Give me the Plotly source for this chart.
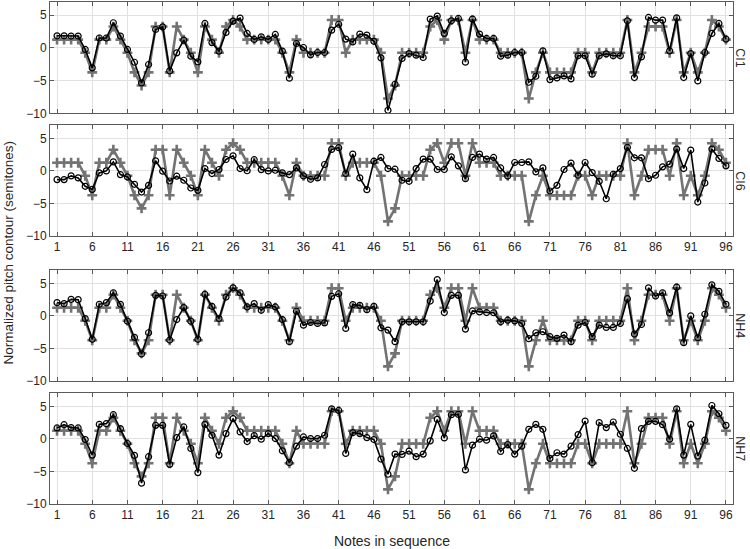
import plotly.graph_objects as go

notes = list(range(1, 97))
x_tick_vals = list(range(1, 97, 5))
x_tick_labels = [str(v) for v in x_tick_vals]
y_tick_vals = [-10, -5, 0, 5]
panel_names = ["CI1", "CI6", "NH4", "NH7"]

reference = [1.25, 1.25, 1.25, 1.25, -0.75, -3.75, 1.25, 1.25, 3.25, 1.25,
             -0.75, -3.75, -5.75, -3.75, 3.25, 3.25, -3.75, 3.25, 1.25, -0.75,
             -3.75, 3.25, 1.25, -0.75, 3.25, 4.25, 3.25, 1.25, 1.25, 1.25,
             1.25, 1.25, -0.75, -3.75, 1.25, -0.75, -0.75, -0.75, -0.75, 4.25,
             4.25, -0.75, 1.25, 1.25, 1.25, 1.25, -0.75, -7.75, -5.75, -0.75,
             -0.75, -0.75, -0.75, 3.25, 4.25, 1.25, 4.25, 4.25, -0.75, 4.25,
             1.25, 1.25, 1.25, -0.75, -0.75, -0.75, -0.75, -7.75, -3.75, -0.75,
             -3.75, -3.75, -3.75, -3.75, -0.75, -0.75, -3.75, -0.75, -0.75, -0.75,
             -0.75, 4.25, -3.75, -0.75, 3.25, 3.25, 3.25, -0.75, 4.25, -3.75,
             -0.75, -3.75, -0.75, 4.25, 3.25, 1.25]

ci1 = [1.84, 1.84, 1.8, 1.8, -0.25, -3.06, 1.5, 1.5, 3.83, 1.8,
       -0.25, -2.2, -5.36, -2.55, 2.8, 3.2, -3.52, -0.77, 1.17, -1.28,
       -2.14, 3.72, 0.8, -0.5, 2.35, 4.08, 4.54, 2.2, 1.28, 1.68,
       1.28, 2.04, -0.5, -4.64, 0.66, 0.05, -1.07, -0.71, -0.71, 2.7,
       3.6, 1.33, 0.9, 2.1, 1.94, 1.0, -1.53, -9.54, -5.56, -1.63,
       -0.87, -1.12, -1.48, 4.39, 4.85, 2.2, 4.13, 4.49, -2.19, 4.39,
       2.1, 1.43, 1.43, -1.28, -1.12, -0.71, -0.71, -5.26, -4.34, -0.46,
       -4.85, -4.59, -4.29, -4.74, -1.22, -1.22, -4.03, -1.22, -0.92, -1.22,
       -1.22, 4.13, -4.54, -1.38, 4.64, 4.23, 4.23, -0.46, 4.59, -4.54,
       -0.87, -5.05, -0.71, 2.2, 3.72, 1.33]

ci6 = [-1.34, -1.34, -0.77, -1.08, -2.37, -2.84, -0.31, 0.0, 1.39, -0.57,
       -0.93, -2.06, -3.25, -2.22, 1.55, -0.05, -1.55, -0.82, -1.44, -2.63,
       -2.99, 0.36, -0.41, 0.21, 1.75, 2.32, 0.36, 0.02, 1.72, 0.2,
       0.0, 0.1, -0.31, -0.57, 0.46, -0.77, -1.29, -1.08, 0.98, 3.3,
       3.56, -0.41, 2.58, -1.08, -2.89, 1.49, 2.06, 0.36, 0.26, -1.44,
       -1.6, 0.36, 1.8, 1.8, 0.21, 0.21, 2.16, 0.77, -1.19, 2.06,
       2.58, 1.8, 2.06, 0.45, -0.77, 1.29, 1.29, 1.39, -0.15, 0.46,
       -3.09, -2.22, 0.21, 1.19, -0.67, 1.29, -0.26, -1.6, -4.28, -0.52,
       0.36, 3.61, 2.01, 2.01, -1.19, -0.67, 0.62, 1.03, 3.35, 0.36,
       3.2, -4.79, -1.86, 3.35, 1.91, 0.77]

nh4 = [2.03, 1.88, 2.54, 2.49, -0.41, -3.6, 1.78, 2.03, 3.55, 1.78,
       -0.81, -3.3, -5.84, -2.59, 3.15, 3.05, -3.71, -0.56, 1.27, -0.81,
       -3.6, 3.3, 1.47, -0.41, 2.89, 4.31, 3.55, 1.37, 1.88, 0.86,
       1.73, 1.37, -0.56, -3.96, 0.71, -1.42, -1.02, -1.17, -1.07, 3.0,
       3.4, -1.93, 1.73, 1.62, 0.96, 1.47, -1.83, -2.18, -3.96, -0.91,
       -0.91, -0.91, -0.91, 2.28, 5.58, 0.51, 3.15, 3.15, -2.03, 0.76,
       0.61, 0.51, 0.48, -0.91, -0.66, -0.76, -1.17, -3.5, -2.59, -2.44,
       -3.2, -3.45, -2.94, -3.96, -1.42, -1.02, -3.2, -1.42, -1.78, -1.78,
       -1.17, 2.64, -2.79, -1.32, 4.31, 3.05, 3.55, 0.46, 4.42, -4.11,
       0.0, -3.35, 0.25, 4.77, 3.76, 1.78]

nh7 = [1.68, 2.18, 1.73, 1.68, -0.1, -2.49, 2.23, 2.34, 3.71, 1.57,
       -0.71, -2.54, -6.8, -2.74, 2.08, 2.08, -3.91, 0.2, 1.83, -1.47,
       -5.18, 2.23, 0.56, -2.49, 0.81, 3.1, 1.07, -0.41, 0.5, -0.05,
       0.81, 0.05, -1.83, -3.65, -1.12, 0.3, 0.05, 0.05, 0.56, 4.62,
       4.37, -2.23, 0.96, 0.81, 0.2, -0.1, -3.1, -5.43, -2.34, -2.39,
       -1.88, -2.74, -2.34, -0.3, 2.99, 0.15, 3.71, 3.76, -4.77, -0.96,
       -0.05, -0.2, 0.46, -1.93, -0.86, -2.34, -1.12, 1.47, 2.23, 1.47,
       -3.0, -2.13, -2.34, -1.12, 0.66, 2.74, -3.65, 2.49, 1.73, 2.59,
       0.71, -1.47, -4.52, 1.57, 2.69, 2.69, 2.18, -0.05, 4.62, -2.49,
       2.23, -2.64, -0.2, 5.13, 3.86, 2.08]

performances = [ci1, ci6, nh4, nh7]

# pixel geometry (750 x 549 canvas)
W, H = 750, 549
left_px, right_px = 50, 733.3
panels_px = [(2.0, 113.3), (125.3, 236.0), (270.3, 381.0), (393.3, 504.0)]
top_px, bottom_px = 2.0, 504.0
span = bottom_px - top_px

GRAY = "rgb(115,115,115)"
FRAME = "rgb(90,90,90)"
TXT = "rgb(38,38,38)"
FONT = "Liberation Sans, Arial, sans-serif"

fig = go.Figure()
layout = {}
for i, (t_px, b_px) in enumerate(panels_px):
    k = "" if i == 0 else str(i + 1)
    xa, ya = "x" + k, "y" + k
    fig.add_trace(go.Scatter(
        x=notes, y=reference, xaxis=xa, yaxis=ya, mode="lines+markers",
        line=dict(color=GRAY, width=2.6),
        marker=dict(symbol="cross-thin", size=7, line=dict(color=GRAY, width=2.6)),
        showlegend=False, hoverinfo="skip"))
    fig.add_trace(go.Scatter(
        x=notes, y=performances[i], xaxis=xa, yaxis=ya, mode="lines+markers",
        line=dict(color="black", width=1.6),
        marker=dict(symbol="circle-open", size=6, color="black", line=dict(color="black", width=1.2)),
        showlegend=False, hoverinfo="skip"))
    show_x = i in (1, 3)
    layout["xaxis" + k] = dict(
        domain=[0, 1], anchor=ya, range=[0, 97],
        tickmode="array", tickvals=x_tick_vals, ticktext=x_tick_labels,
        showticklabels=show_x, ticks="inside", ticklen=4, tickcolor=FRAME,
        showgrid=True, gridcolor="rgb(225,225,225)", gridwidth=1,
        showline=True, linecolor=FRAME, linewidth=1, mirror="ticks",
        zeroline=False, tickfont=dict(family=FONT, size=12, color=TXT))
    layout["yaxis" + k] = dict(
        domain=[(bottom_px - b_px) / span, (bottom_px - t_px) / span],
        anchor=xa, range=[-10, 7],
        tickmode="array", tickvals=y_tick_vals,
        ticks="inside", ticklen=4, tickcolor=FRAME,
        showgrid=True, gridcolor="rgb(225,225,225)", gridwidth=1,
        showline=True, linecolor=FRAME, linewidth=1, mirror="ticks",
        zeroline=False, tickfont=dict(family=FONT, size=12, color=TXT))

annotations = []
for i, (t_px, b_px) in enumerate(panels_px):
    yc = (bottom_px - (t_px + b_px) / 2) / span
    annotations.append(dict(
        text=panel_names[i], xref="paper", yref="paper", x=1, y=yc,
        xanchor="center", yanchor="middle", xshift=7.5, showarrow=False,
        textangle=90, borderpad=0, font=dict(family=FONT, size=12.5, color=TXT)))
annotations.append(dict(
    text="Normalized pitch contour (semitones)", xref="paper", yref="paper",
    x=0, y=0.5, xanchor="right", yanchor="middle", xshift=-33, showarrow=False,
    textangle=-90, font=dict(family=FONT, size=13.5, color=TXT)))
annotations.append(dict(
    text="Notes in sequence", xref="paper", yref="paper",
    x=0.5, y=0, xanchor="center", yanchor="top", yshift=-27, showarrow=False,
    font=dict(family=FONT, size=14, color=TXT)))

fig.update_layout(
    width=W, height=H,
    margin=dict(l=left_px, r=W - right_px, t=top_px, b=H - bottom_px),
    paper_bgcolor="white", plot_bgcolor="white",
    annotations=annotations, **layout)

fig.write_html("out.html", config={"displayModeBar": False},
               post_script="document.body.style.margin='0px';document.body.style.overflow='hidden';")
